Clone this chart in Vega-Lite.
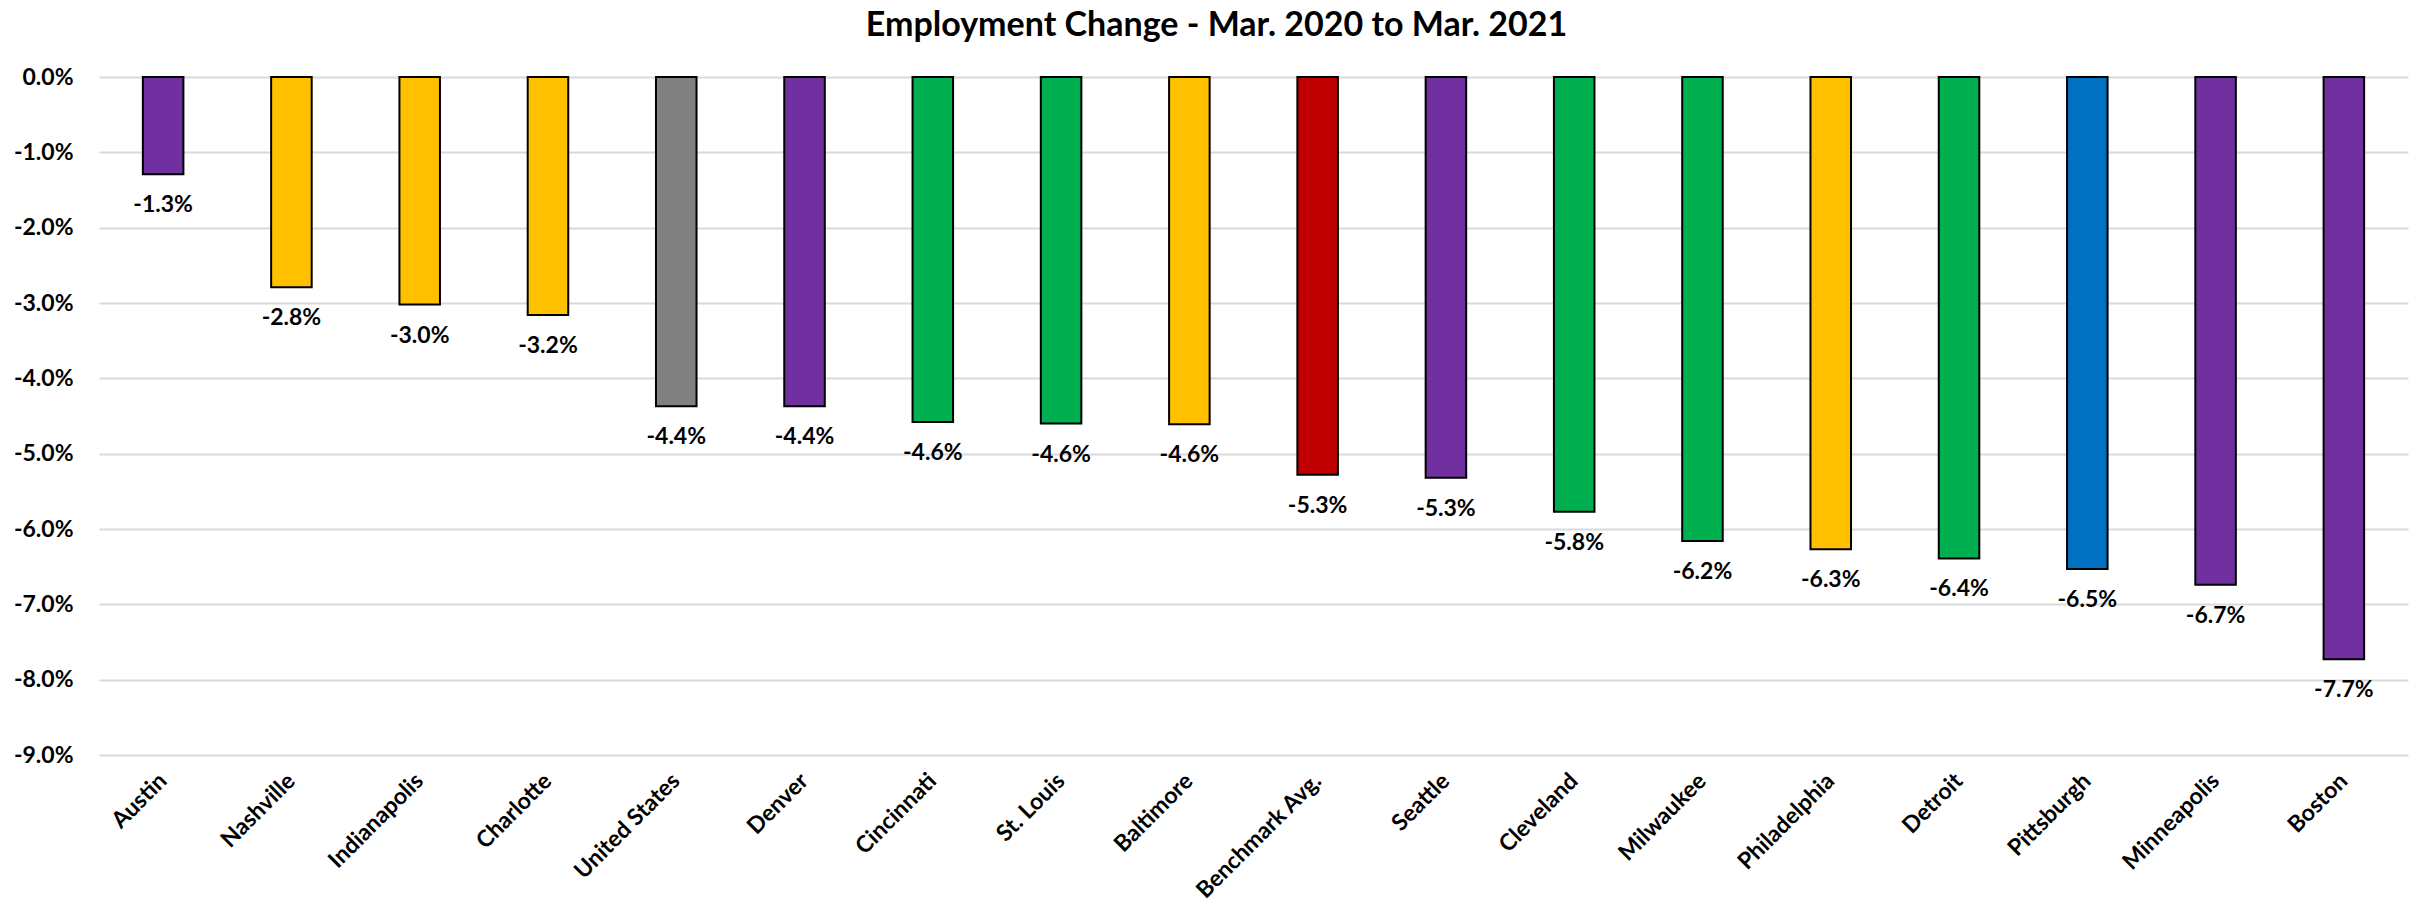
{
  "$schema": "https://vega.github.io/schema/vega-lite/v6.json",
  "width": 2309,
  "height": 678,
  "autosize": {"type": "none"},
  "padding": {"left": 99, "top": 77, "right": 17, "bottom": 165},
  "background": "white",
  "config": {
    "view": {"stroke": null},
    "font": "Lato",
    "locale": {"number": {"decimal": ".", "thousands": ",", "grouping": [3], "currency": ["$", ""], "minus": "-"}}
  },
  "title": {
    "text": "Employment Change - Mar. 2020 to Mar. 2021",
    "font": "Lato",
    "fontSize": 34,
    "fontWeight": "bold",
    "color": "#000000",
    "anchor": "middle",
    "frame": "group",
    "dx": -37,
    "offset": 23
  },
  "data": {
    "values": [
      {"area": "Austin", "change": -0.0129, "group": "A"},
      {"area": "Nashville", "change": -0.0279, "group": "B"},
      {"area": "Indianapolis", "change": -0.0302, "group": "B"},
      {"area": "Charlotte", "change": -0.0316, "group": "B"},
      {"area": "United States", "change": -0.0437, "group": "US"},
      {"area": "Denver", "change": -0.0437, "group": "A"},
      {"area": "Cincinnati", "change": -0.0458, "group": "C"},
      {"area": "St. Louis", "change": -0.0460, "group": "C"},
      {"area": "Baltimore", "change": -0.0461, "group": "B"},
      {"area": "Benchmark Avg.", "change": -0.0528, "group": "Benchmark"},
      {"area": "Seattle", "change": -0.0532, "group": "A"},
      {"area": "Cleveland", "change": -0.0577, "group": "C"},
      {"area": "Milwaukee", "change": -0.0616, "group": "C"},
      {"area": "Philadelphia", "change": -0.0627, "group": "B"},
      {"area": "Detroit", "change": -0.0639, "group": "C"},
      {"area": "Pittsburgh", "change": -0.0653, "group": "Pittsburgh"},
      {"area": "Minneapolis", "change": -0.0674, "group": "A"},
      {"area": "Boston", "change": -0.0773, "group": "A"}
    ]
  },
  "encoding": {
    "x": {
      "field": "area",
      "type": "nominal",
      "sort": null,
      "scale": {"paddingInner": 0.684, "paddingOuter": 0.342},
      "axis": {
        "title": null,
        "domain": false,
        "ticks": false,
        "labelAngle": -45,
        "labelAlign": "right",
        "labelBaseline": "middle",
        "labelPadding": 22,
        "labelFont": "Lato",
        "labelFontSize": 23,
        "labelFontWeight": "bold",
        "labelColor": "#000000"
      }
    }
  },
  "layer": [
    {
      "mark": {"type": "bar", "stroke": "#000000", "strokeWidth": 2},
      "encoding": {
        "y": {
          "field": "change",
          "type": "quantitative",
          "scale": {"domain": [-0.09, 0], "nice": false},
          "axis": {
            "title": null,
            "domain": false,
            "ticks": false,
            "values": [0, -0.01, -0.02, -0.03, -0.04, -0.05, -0.06, -0.07, -0.08, -0.09],
            "format": ".1%",
            "labelPadding": 26,
            "labelFont": "Lato",
            "labelFontSize": 23,
            "labelFontWeight": "bold",
            "labelColor": "#000000",
            "grid": true,
            "gridColor": "#D9D9D9",
            "gridWidth": 2
          }
        },
        "color": {
          "field": "group",
          "type": "nominal",
          "scale": {
            "domain": ["A", "B", "US", "C", "Benchmark", "Pittsburgh"],
            "range": ["#7030A0", "#FFC000", "#808080", "#00B050", "#C00000", "#0070C0"]
          },
          "legend": null
        }
      }
    },
    {
      "mark": {"type": "rule", "color": "#262626", "strokeWidth": 2},
      "encoding": {"y": {"datum": 0, "type": "quantitative"}}
    },
    {
      "mark": {"type": "text", "dy": 31, "baseline": "middle", "align": "center", "font": "Lato", "fontSize": 23, "fontWeight": "bold", "color": "#000000"},
      "encoding": {
        "y": {"field": "change", "type": "quantitative"},
        "text": {"field": "change", "type": "quantitative", "format": ".1%"}
      }
    }
  ]
}
